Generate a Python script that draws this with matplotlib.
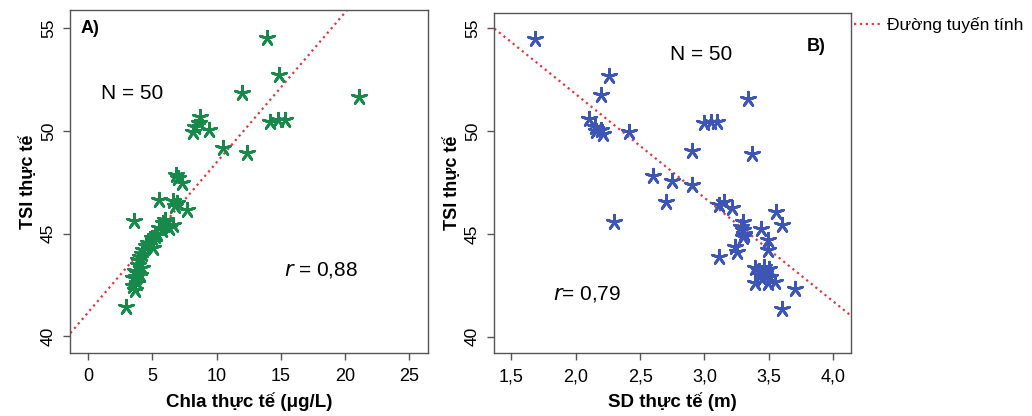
import matplotlib
matplotlib.use("Agg")
import matplotlib.pyplot as plt
from matplotlib import font_manager as fm
from matplotlib.ticker import FixedLocator, FuncFormatter

plt.rcParams['font.family'] = ['Liberation Sans', 'DejaVu Sans']
names = {f.name for f in fm.fontManager.ttflist}
NARROW = 'Liberation Sans Narrow' if 'Liberation Sans Narrow' in names else 'Liberation Sans'

# ---- data panel A: Chla vs TSI ----
chla = [13.9, 14.9, 11.95, 21.1, 14.16, 14.8, 15.3, 8.7, 8.3, 8.13,
        9.43, 10.47, 12.34, 6.8, 7.02, 7.28, 5.54, 6.63, 6.76, 7.67,
        3.59, 5.98, 6.63, 5.72, 5.33, 4.94, 4.68, 5.07, 4.29, 4.03,
        3.9, 4.16, 3.77, 3.51, 3.77, 3.64, 2.92, 5.5, 5.8, 6.3,
        5.2, 4.5, 4.2, 3.9, 3.6, 3.7, 3.5, 4.0, 8.6, 6.9]
tsi_a = [54.55, 52.73, 51.83, 51.64, 50.45, 50.54, 50.54, 50.67, 50.2, 49.97,
         50.05, 49.16, 48.91, 47.85, 47.69, 47.45, 46.64, 46.6, 46.35, 46.15,
         45.63, 45.66, 45.42, 45.17, 45.0, 44.77, 44.53, 44.28, 44.2, 43.87,
         43.47, 43.31, 43.07, 42.82, 42.58, 42.25, 41.41, 45.3, 45.5, 45.3,
         44.9, 44.4, 44.0, 43.7, 43.2, 42.9, 42.45, 43.0, 50.4, 46.5]
fit_a = (41.18, 0.729)  # intercept, slope

# ---- data panel B: SD vs TSI ----
sd = [1.68, 2.26, 2.2, 3.34, 2.1, 2.15, 2.2, 2.21, 2.41, 3.0,
      3.05, 3.1, 2.9, 3.37, 2.6, 2.75, 2.9, 2.7, 2.3, 3.15,
      3.21, 3.11, 3.555, 3.6, 3.3, 3.3, 3.3, 3.44, 3.495, 3.495,
      3.24, 3.25, 3.11, 3.39, 3.46, 3.47, 3.43, 3.51, 3.39, 3.495,
      3.547, 3.7, 3.6, 3.31, 3.28, 3.42, 3.5, 2.16, 3.31, 3.45]
tsi_b = [54.48, 52.68, 51.76, 51.56, 50.57, 50.22, 50.05, 49.86, 49.97, 50.38,
         50.46, 50.46, 49.05, 48.89, 47.82, 47.57, 47.38, 46.57, 45.56, 46.56,
         46.24, 46.4, 46.08, 45.43, 45.59, 45.19, 44.86, 45.22, 44.7, 44.21,
         44.37, 44.13, 43.89, 43.32, 43.4, 43.08, 43.0, 42.91, 42.59, 42.59,
         42.67, 42.3, 41.33, 45.0, 45.35, 43.2, 43.3, 50.0, 44.95, 42.8]
fit_b = (61.89, -5.045)

xticks_a = [0, 5, 10, 15, 20, 25]
xticks_b = [1.5, 2.0, 2.5, 3.0, 3.5, 4.0]
yticks = [40, 45, 50, 55]

GREEN = '#17894a'
BLUE = '#3d55b4'
RED = '#de3a40'
STAR = (5, 2, 0)

fig = plt.figure(figsize=(10.32, 4.16), dpi=100)
axA = fig.add_axes([70/1032, 1-353/416, 358/1032, 343/416])
axB = fig.add_axes([494/1032, 1-353/416, 357/1032, 340.3/416])

def style(ax, xt, xlim, ylim, fmt):
    ax.set_xlim(*xlim)
    ax.set_ylim(*ylim)
    ax.xaxis.set_major_locator(FixedLocator(xt))
    ax.yaxis.set_major_locator(FixedLocator(yticks))
    ax.xaxis.set_major_formatter(FuncFormatter(fmt))
    for s in ax.spines.values():
        s.set_color('#555555')
        s.set_linewidth(1.0)
    ax.tick_params(direction='out', length=5, width=1, color='#555555')
    ax.tick_params(axis='x', pad=6, labelsize=13)
    ax.tick_params(axis='y', pad=5, labelsize=12.5)
    for lab in ax.get_xticklabels():
        lab.set_fontfamily(NARROW)
    for lab in ax.get_yticklabels():
        lab.set_rotation(90)
        lab.set_va('center')

# Panel A
axA.scatter(chla, tsi_a, marker=STAR, s=110, color=GREEN, linewidths=2.0, zorder=3)
xs = [-2, 30]
line, = axA.plot(xs, [fit_a[0] + fit_a[1]*x for x in xs], ls=':', color=RED, lw=1.6, zorder=2)
style(axA, xticks_a, (-1.43, 26.48), (39.19, 55.89), lambda v, p: f"{v:.0f}")
axA.set_xlabel('Chla thực tế (μg/L)', fontsize=13.5, fontweight='bold', family=NARROW, labelpad=5)
axA.set_ylabel('TSI thực tế', fontsize=13, fontweight='bold', labelpad=3)
axA.text(0.03, 0.945, 'A)', transform=axA.transAxes, fontsize=13, fontweight='bold', va='center')
axA.text(0.173, 0.758, 'N = 50', transform=axA.transAxes, fontsize=15, ha='center', va='center')
axA.text(0.70, 0.241, r'$\it{r}$ = 0,88', transform=axA.transAxes, fontsize=15, ha='center', va='center')

# Panel B
axB.scatter(sd, tsi_b, marker=STAR, s=110, color=BLUE, linewidths=2.0, zorder=3)
xs = [1.0, 5.0]
axB.plot(xs, [fit_b[0] + fit_b[1]*x for x in xs], ls=':', color=RED, lw=1.6, zorder=2)
style(axB, xticks_b, (1.365, 4.138), (39.2, 55.76), lambda v, p: f"{v:.1f}".replace('.', ','))
axB.set_xlabel('SD thực tế (m)', fontsize=13.5, fontweight='bold', family=NARROW, labelpad=5)
axB.set_ylabel('TSI thực tế', fontsize=13, fontweight='bold', labelpad=3)
axB.text(0.875, 0.9, 'B)', transform=axB.transAxes, fontsize=13, fontweight='bold', va='center')
axB.text(0.58, 0.876, 'N = 50', transform=axB.transAxes, fontsize=15, ha='center', va='center')
axB.text(0.26, 0.172, r'$\it{r}$= 0,79', transform=axB.transAxes, fontsize=15, ha='center', va='center')

fig.legend([line], ['Đường tuyến tính'], loc='center left', bbox_to_anchor=(854/1032, 1-25/416),
           frameon=False, fontsize=12.5, handlelength=1.6, handletextpad=0.3, borderpad=0, borderaxespad=0)

fig.savefig('out.png', dpi=100)
